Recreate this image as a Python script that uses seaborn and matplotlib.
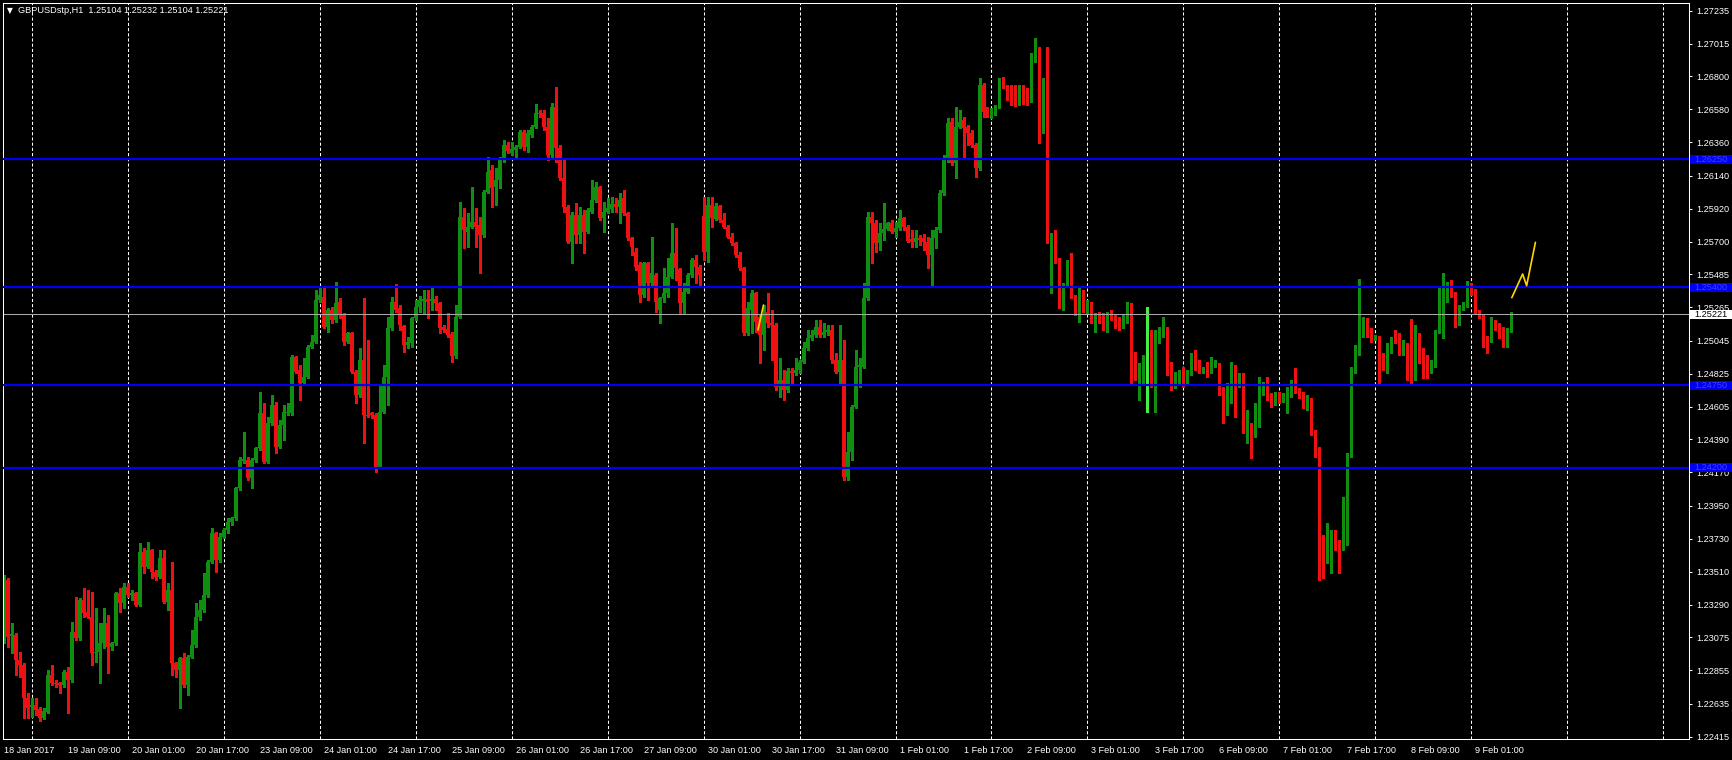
import numpy as np
import pandas as pd
import matplotlib
matplotlib.use("Agg")
import matplotlib.pyplot as plt
import matplotlib.transforms as mtrans
from matplotlib.patches import Rectangle
import seaborn as sns

symbol = "GBPUSDstp,H1"
first_bar = "2017-01-18 17:00"

# hourly candles, prices in points (1 point = 0.00001)
opens = [
    123079, 123455, 123083, 123090, 122924, 122891, 122669, 122610, 122623, 122597,
    122537, 122581, 122824, 122769, 122769, 122758, 122847, 122791, 123112, 123068,
    123322, 123245, 123212, 122968, 122979, 123035, 123167, 123013, 123035, 123367,
    123300, 123411, 123356, 123367, 123289, 123643, 123544, 123654, 123510, 123477,
    123599, 123311, 123389, 122902, 122858, 122935, 122758, 122946, 123024, 123212,
    123256, 123356, 123577, 123765, 123588, 123743, 123787, 123842, 123865, 124064,
    124247, 124252, 124130, 124252, 124329, 124562, 124241, 124495, 124617, 124340,
    124484, 124562, 124562, 124938, 124849, 124761, 124805, 125004, 125037, 125314,
    125336, 125137, 125248, 125181, 125303, 125214, 125037, 125093, 124838, 124683,
    124916, 124551, 124562, 124551, 124208, 124573, 124805, 125126, 125303, 125259,
    125142, 125016, 125027, 125193, 125270, 125310, 125319, 125310, 125319, 125297,
    125133, 125120, 125089, 124943, 125204, 125868, 125768, 125801, 125834, 125812,
    125746, 126034, 126177, 126067, 126111, 126244, 126343, 126293, 126310, 126332,
    126432, 126332, 126410, 126465, 126558, 126554, 126465, 126277, 126598, 126321,
    126122, 125934, 125702, 125879, 125746, 125879, 125768, 125901, 125978, 126067,
    125857, 125901, 125916, 125952, 125934, 125989, 125890, 125724, 125635, 125547,
    125348, 125562, 125425, 125480, 125248, 125325, 125359, 125469, 125624, 125518,
    125292, 125370, 125480, 125580, 125536, 125872, 125635, 125945, 125850, 125938,
    125846, 125801, 125735, 125691, 125613, 125525, 125093, 125248, 125359, 125204,
    125082, 125237, 125160, 125148, 124739, 124783, 124717, 124845, 124832, 124850,
    124905, 124994, 125060, 125082, 125137, 125082, 125104, 125115, 124916, 124839,
    124916, 124142, 124308, 124606, 124872, 124872, 125326, 125868, 125823, 125691,
    125757, 125786, 125828, 125768, 125790, 125857, 125801, 125717, 125702, 125724,
    125724, 125702, 125613, 125724, 125779, 126023, 126244, 126498, 126222, 126465,
    126509, 126465, 126421, 126344, 126189, 126742, 126576, 126565, 126565, 126598,
    126779, 126731, 126726, 126625, 126620, 126720, 126653, 126642, 126908, 126941,
    126509, 126742, 125708, 125713, 125569, 125292, 125425, 125569, 125337, 125248,
    125359, 125248, 125281, 125182, 125208, 125204, 125186, 125215, 125204, 125171,
    125137, 125182, 125215, 124827, 124794, 124823, 124898, 124905, 124805, 125049,
    125093, 125120, 124894, 124805, 124816, 124823, 124761, 124823, 124916, 124898,
    124850, 124867, 124832, 124883, 124889, 124728, 124562, 124739, 124876, 124761,
    124816, 124451, 124473, 124429, 124484, 124699, 124750, 124672, 124628, 124695,
    124661, 124677, 124695, 124772, 124717, 124695, 124606, 124655, 124440, 124285,
    123732, 123655, 123754, 123776, 123710, 123659, 123832, 124285, 124838, 124960,
    125170, 125181, 125115, 125053, 125066, 124949, 124916, 124971, 125060, 125053,
    124960, 124993, 124949, 124894, 125038, 124982, 124934, 124883, 124883, 125104,
    125248, 125319, 125392, 125359, 125159, 125259, 125281, 125392, 125370, 125237,
    125204, 125066, 125049, 125170, 125148, 125071, 125004, 125104,
]
highs = [
    123488, 123466, 123167, 123101, 122979, 122902, 122703, 122669, 122669, 122614,
    122603, 122858, 122891, 122791, 122780, 122858, 122880, 123179, 123344, 123333,
    123400, 123389, 123378, 123267, 123167, 123267, 123223, 123046, 123378, 123400,
    123433, 123433, 123389, 123378, 123699, 123665, 123710, 123659, 123522, 123654,
    123654, 123433, 123577, 122913, 122946, 122968, 122957, 123123, 123300, 123322,
    123499, 123588, 123798, 123776, 123765, 123798, 123865, 123876, 124075, 124274,
    124440, 124274, 124263, 124340, 124705, 124628, 124539, 124683, 124639, 124517,
    124617, 124628, 124949, 124942, 124883, 124927, 125015, 125082, 125380, 125403,
    125392, 125259, 125270, 125436, 125325, 125226, 125104, 125104, 124849, 124993,
    125325, 125048, 124573, 124562, 124750, 124883, 125204, 125337, 125421, 125281,
    125148, 125071, 125204, 125314, 125341, 125381, 125381, 125407, 125341, 125303,
    125148, 125226, 125104, 125281, 125967, 125923, 125890, 126067, 125923, 125868,
    126045, 126266, 126211, 126189, 126266, 126377, 126366, 126366, 126343, 126443,
    126443, 126443, 126476, 126616, 126576, 126576, 126521, 126625, 126731, 126343,
    126244, 125945, 125901, 125956, 125934, 125912, 125923, 126111, 126100, 126071,
    125967, 125989, 126000, 125989, 126023, 126045, 125901, 125735, 125657, 125569,
    125569, 125569, 125735, 125496, 125337, 125525, 125591, 125823, 125790, 125525,
    125425, 125491, 125591, 125613, 125547, 126000, 126000, 126000, 125956, 125945,
    125890, 125812, 125757, 125702, 125635, 125536, 125303, 125381, 125370, 125215,
    125281, 125359, 125248, 125160, 124927, 124850, 124861, 124861, 124927, 124916,
    125038, 125115, 125115, 125182, 125182, 125160, 125148, 125148, 124960, 125148,
    125049, 124440, 124617, 124983, 124927, 125425, 125901, 125901, 125846, 125823,
    125956, 125835, 125846, 125835, 125912, 125868, 125812, 125779, 125779, 125746,
    125753, 125735, 125779, 125801, 126045, 126277, 126521, 126521, 126598, 126576,
    126532, 126476, 126443, 126355, 126786, 126753, 126598, 126587, 126609, 126786,
    126797, 126742, 126742, 126742, 126742, 126742, 126720, 126952, 127052, 126996,
    126786, 126996, 125757, 125779, 125591, 125425, 125580, 125624, 125348, 125403,
    125381, 125314, 125303, 125226, 125237, 125226, 125237, 125248, 125215, 125204,
    125215, 125303, 125292, 124971, 124894, 124949, 125270, 125115, 125115, 125137,
    125204, 125137, 124905, 124838, 124850, 124872, 124850, 124960, 124982, 124916,
    124872, 124905, 124938, 124916, 124894, 124739, 124761, 124905, 124883, 124827,
    124827, 124584, 124495, 124628, 124805, 124772, 124805, 124695, 124706, 124706,
    124695, 124739, 124783, 124861, 124728, 124706, 124684, 124661, 124451, 124341,
    123754, 123832, 123787, 123787, 123721, 124009, 124296, 124872, 125016, 125451,
    125204, 125193, 125126, 125082, 125075, 124960, 125027, 125071, 125115, 125093,
    125049, 125027, 125186, 125148, 125093, 124993, 124949, 124916, 125115, 125392,
    125491, 125436, 125447, 125370, 125281, 125303, 125443, 125425, 125385, 125248,
    125215, 125075, 125204, 125181, 125159, 125137, 125126, 125232,
]
lows = [
    123035, 123013, 122968, 122824, 122813, 122537, 122537, 122548, 122559, 122521,
    122530, 122570, 122758, 122747, 122703, 122747, 122570, 122780, 123057, 123057,
    123212, 123201, 122891, 122913, 122769, 123001, 122835, 122990, 123024, 123245,
    123267, 123344, 123322, 123283, 123283, 123499, 123533, 123466, 123455, 123466,
    123300, 123256, 122824, 122813, 122603, 122747, 122692, 122935, 123013, 123190,
    123245, 123344, 123566, 123510, 123577, 123732, 123765, 123820, 123853, 124053,
    124230, 124119, 124064, 124241, 124318, 124230, 124230, 124484, 124296, 124329,
    124385, 124551, 124551, 124827, 124650, 124750, 124794, 124993, 125026, 125303,
    125126, 125104, 125159, 125170, 125192, 125015, 125026, 124827, 124628, 124672,
    124362, 124539, 124528, 124174, 124197, 124562, 124617, 125115, 125237, 125115,
    124971, 124994, 125005, 125182, 125237, 125226, 125193, 125248, 125248, 125093,
    125104, 125071, 124905, 124927, 125193, 125657, 125668, 125790, 125668, 125491,
    125735, 126023, 125934, 125945, 126056, 126233, 126288, 126277, 126255, 126321,
    126310, 126299, 126399, 126454, 126532, 126443, 126244, 126266, 126233, 126111,
    125901, 125691, 125562, 125691, 125691, 125624, 125757, 125890, 125967, 125846,
    125768, 125890, 125901, 125901, 125823, 125879, 125713, 125613, 125514, 125303,
    125337, 125314, 125403, 125237, 125160, 125303, 125337, 125458, 125447, 125226,
    125226, 125359, 125469, 125425, 125414, 125580, 125569, 125801, 125846, 125834,
    125790, 125724, 125680, 125602, 125514, 125082, 125082, 125093, 125104, 124894,
    124983, 125137, 124916, 124717, 124673, 124651, 124706, 124761, 124817, 124828,
    124898, 124983, 125049, 125071, 125071, 125071, 125082, 124894, 124828, 124761,
    124119, 124119, 124252, 124595, 124739, 124861, 125314, 125558, 125635, 125646,
    125713, 125779, 125757, 125735, 125779, 125779, 125702, 125669, 125669, 125680,
    125646, 125525, 125414, 125657, 125768, 126012, 126233, 126211, 126122, 126454,
    126255, 126344, 126332, 126133, 126178, 126532, 126532, 126521, 126543, 126587,
    126720, 126642, 126609, 126602, 126609, 126616, 126609, 126631, 126897, 126355,
    126421, 125691, 125359, 125558, 125259, 125248, 125403, 125326, 125215, 125171,
    125237, 125226, 125160, 125104, 125160, 125115, 125104, 125182, 125126, 125115,
    125126, 125160, 124761, 124783, 124650, 124761, 124573, 124739, 124573, 125027,
    125071, 124816, 124717, 124728, 124750, 124739, 124750, 124816, 124850, 124827,
    124827, 124805, 124827, 124872, 124684, 124495, 124551, 124628, 124540, 124739,
    124429, 124363, 124263, 124407, 124473, 124684, 124650, 124606, 124617, 124628,
    124639, 124562, 124672, 124695, 124661, 124595, 124584, 124418, 124274, 123455,
    123466, 123566, 123500, 123655, 123500, 123655, 123688, 124274, 124827, 124949,
    125071, 125071, 125038, 125049, 124761, 124850, 124827, 124960, 125027, 124949,
    124949, 124783, 124750, 124783, 124894, 124794, 124794, 124827, 124872, 125093,
    125060, 125303, 125336, 125137, 125148, 125248, 125270, 125347, 125226, 125193,
    125004, 124960, 125038, 125115, 125060, 125000, 125000, 125104,
]
closes = [
    123466, 123079, 123097, 122924, 122891, 122669, 122603, 122623, 122592, 122537,
    122588, 122824, 122769, 122765, 122758, 122847, 122791, 123112, 123068, 123322,
    123234, 123212, 122968, 122979, 123035, 123167, 123013, 123035, 123367, 123300,
    123411, 123356, 123371, 123289, 123643, 123544, 123654, 123510, 123477, 123599,
    123311, 123389, 122902, 122858, 122935, 122758, 122946, 123024, 123212, 123256,
    123356, 123577, 123765, 123588, 123743, 123787, 123842, 123865, 124064, 124252,
    124261, 124130, 124252, 124329, 124562, 124241, 124495, 124617, 124340, 124484,
    124573, 124573, 124938, 124838, 124761, 124805, 125004, 125037, 125314, 125347,
    125137, 125248, 125181, 125292, 125214, 125037, 125093, 124838, 124683, 124916,
    124551, 124546, 124551, 124208, 124573, 124805, 125126, 125303, 125248, 125148,
    125016, 125038, 125193, 125270, 125314, 125319, 125303, 125319, 125292, 125126,
    125115, 125082, 124943, 125204, 125868, 125779, 125801, 125834, 125801, 125746,
    126034, 126166, 126056, 126111, 126244, 126343, 126306, 126315, 126332, 126432,
    126332, 126421, 126465, 126558, 126549, 126465, 126277, 126598, 126321, 126122,
    125934, 125702, 125879, 125746, 125879, 125768, 125912, 125978, 126067, 125857,
    125901, 125923, 125952, 125934, 125978, 125890, 125724, 125668, 125536, 125348,
    125558, 125425, 125491, 125303, 125325, 125359, 125469, 125624, 125525, 125292,
    125370, 125480, 125580, 125536, 125480, 125635, 125945, 125857, 125938, 125846,
    125801, 125735, 125691, 125613, 125525, 125093, 125259, 125359, 125171, 125082,
    125215, 125160, 125148, 124739, 124783, 124717, 124845, 124832, 124850, 124905,
    124994, 125060, 125082, 125137, 125082, 125104, 125115, 124916, 124839, 124916,
    124142, 124308, 124606, 124872, 124883, 125326, 125868, 125823, 125691, 125757,
    125786, 125828, 125768, 125790, 125857, 125801, 125708, 125702, 125724, 125713,
    125702, 125613, 125724, 125779, 126023, 126244, 126487, 126222, 126465, 126498,
    126454, 126421, 126344, 126189, 126742, 126565, 126565, 126571, 126598, 126775,
    126731, 126675, 126625, 126620, 126720, 126642, 126642, 126908, 126948, 126509,
    126742, 125702, 125713, 125569, 125292, 125425, 125569, 125337, 125248, 125359,
    125248, 125281, 125171, 125199, 125193, 125186, 125215, 125193, 125160, 125137,
    125182, 125222, 124827, 124794, 124823, 124894, 124898, 124805, 125049, 125093,
    125120, 124894, 124805, 124823, 124832, 124761, 124823, 124916, 124894, 124850,
    124861, 124838, 124883, 124889, 124728, 124562, 124739, 124872, 124761, 124816,
    124451, 124473, 124440, 124484, 124750, 124750, 124672, 124617, 124695, 124661,
    124677, 124695, 124772, 124717, 124672, 124606, 124655, 124440, 124285, 123710,
    123655, 123754, 123776, 123710, 123677, 123832, 124285, 124838, 124960, 125170,
    125186, 125115, 125049, 125066, 124938, 124927, 124971, 125049, 125038, 124960,
    124993, 124949, 124894, 125038, 124982, 124927, 124883, 124898, 125104, 125248,
    125325, 125392, 125347, 125159, 125259, 125281, 125403, 125370, 125237, 125204,
    125060, 125049, 125159, 125137, 125071, 125004, 125104, 125221,
]

# horizontal levels drawn on the chart, and the current bid
levels = [1.26250, 1.25400, 1.24750, 1.24200]
last_price = 1.25221
price_ticks = [1.27235, 1.27015, 1.26800, 1.26580, 1.26360, 1.26140, 1.25920,
               1.25700, 1.25485, 1.25265, 1.25045, 1.24825, 1.24605, 1.24390,
               1.24170, 1.23950, 1.23730, 1.23510, 1.23290, 1.23075, 1.22855,
               1.22635, 1.22415]

# yellow hand drawn zigzags (bar number, price)
zig1_bar = [188.6, 190.0]
zig1_price = [1.25115, 1.25281]
zig2_bar = [377.1, 379.8, 380.8, 383.0]
zig2_price = [1.25330, 1.25487, 1.25409, 1.25697]

df = pd.DataFrame({"open": opens, "high": highs, "low": lows, "close": closes}) / 1e5
df["bar"] = np.arange(len(df))

# bar times: hourly, no weekend bars
times = pd.date_range(first_bar, periods=24 * 40, freq="h")
times = times[times.dayofweek < 5][:430]

sns.set_theme(style="dark", rc={"axes.facecolor": "black", "figure.facecolor": "black",
                                "axes.edgecolor": "white", "axes.grid": False})
plt.rcParams["font.family"] = ["Liberation Sans", "DejaVu Sans"]

W, H = 1732, 760
fig = plt.figure(figsize=(W / 100, H / 100), dpi=100)
ax = fig.add_axes([3 / W, 20.7 / H, 1686 / W, 736.6 / H])
ax.set_xlim(-0.16, 421.4)
ax.set_ylim(1.22398, 1.27288)
px = (1.27288 - 1.22398) / 736.6   # price per pixel

# day separators
day_bars = np.flatnonzero(times.hour == 0)
for b in day_bars:
    ax.axvline(b, color="white", lw=0.75, ls=(0, (3, 2)), zorder=0.8)

# candles
bull_col, bear_col, doji_col = "#0f8f0f", "#ee1111", "#44ee44"
col = np.where(df.close > df.open, bull_col, np.where(df.close < df.open, bear_col, doji_col))
ax.vlines(df.bar, df.low, df.high, colors=col, lw=0.75, antialiased=False, zorder=2)
body_lo = np.minimum(df.open, df.close)
body_h = np.maximum((df.close - df.open).abs(), px)
ax.bar(df.bar, body_h, bottom=body_lo, width=0.75, color=col, linewidth=0,
       antialiased=False, zorder=2.1)

# lines
ax.axhline(last_price, color="#a8a8a8", lw=0.75, zorder=2.5)
for lv in levels:
    ax.axhline(lv, color="#0000f0", lw=1.6, zorder=3)
sns.lineplot(x=zig1_bar, y=zig1_price, ax=ax, color="#ffd700", lw=1.2, zorder=4, sort=False)
sns.lineplot(x=zig2_bar, y=zig2_price, ax=ax, color="#ffd700", lw=1.2, zorder=4, sort=False)

# axes look
for s in ax.spines.values():
    s.set_color("white")
    s.set_linewidth(0.75)
ax.yaxis.tick_right()
ax.set_yticks(price_ticks)
ax.set_yticklabels([f"{v:.5f}" for v in price_ticks])
ax.tick_params(axis="y", direction="out", length=2, width=0.75, color="white",
               labelcolor="white", labelsize=6.6, pad=3)

label_bars = [b for b in range(0, len(df), 16)]
labels = []
for b in label_bars:
    t = times[b]
    labels.append(f"{t.day} {t:%b %Y}" if b == 0 else f"{t.day} {t:%b %H:%M}")
ax.set_xticks(label_bars)
ax.set_xticklabels(labels)
ax.tick_params(axis="x", direction="out", length=3, width=0.75, color="white",
               labelcolor="white", labelsize=6.6, pad=1.5)
for t in ax.get_xticklabels():
    t.set_ha("left")
ax.set_xlabel("")
ax.set_ylabel("")

# price boxes on the right scale
tr = mtrans.blended_transform_factory(fig.transFigure, ax.transData)
box_h = 9 * px
for lv in levels:
    ax.add_patch(Rectangle((1690 / W, lv - box_h / 2), 1, box_h, transform=tr,
                           facecolor="#0000f0", edgecolor="none", clip_on=False, zorder=5))
    ax.text(1694 / W, lv, f"{lv:.5f}", transform=tr, color="#4040ff", fontsize=6.6,
            va="center", ha="left", zorder=6, clip_on=False)
ax.add_patch(Rectangle((1690 / W, last_price - box_h / 2), 1, box_h, transform=tr,
                       facecolor="white", edgecolor="none", clip_on=False, zorder=5))
ax.text(1694 / W, last_price, f"{last_price:.5f}", transform=tr, color="black",
        fontsize=6.6, va="center", ha="left", zorder=6, clip_on=False)

# header
last = df.iloc[-1]
fig.text(7 / W, 1 - 10.5 / H, "\u25bc", color="white", fontsize=5.5, va="center",
         family=["DejaVu Sans"])
fig.text(18 / W, 1 - 10.5 / H,
         f"{symbol}  {last.open:.5f} {last.high:.5f} {last.low:.5f} {last.close:.5f}",
         color="white", fontsize=6.6, va="center")

fig.savefig("out.png", dpi=100, facecolor="black")
